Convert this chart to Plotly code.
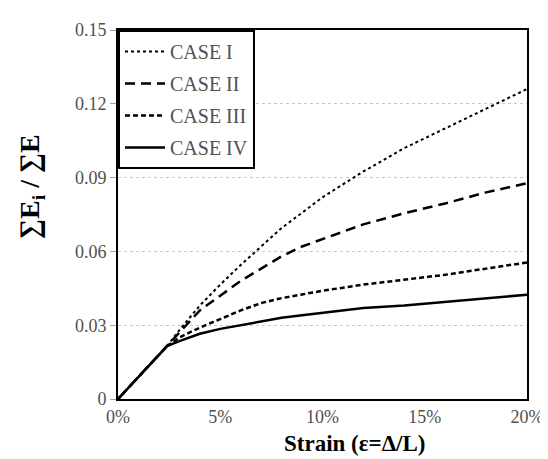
import plotly.graph_objects as go

strain = [0, 2.4, 3, 4, 5, 6, 7, 8, 9, 10, 12, 14, 16, 18, 20]
case_i = [0, 0.0215, 0.028, 0.038, 0.0465, 0.0545, 0.062, 0.0695, 0.0757, 0.082, 0.0925, 0.102, 0.110, 0.118, 0.126]
case_ii = [0, 0.0215, 0.027, 0.036, 0.042, 0.048, 0.053, 0.058, 0.062, 0.065, 0.071, 0.0755, 0.0795, 0.084, 0.0877]
case_iii = [0, 0.0215, 0.025, 0.029, 0.0325, 0.036, 0.039, 0.041, 0.0425, 0.044, 0.0465, 0.0485, 0.0505, 0.053, 0.0555]
case_iv = [0, 0.0215, 0.0235, 0.0265, 0.0285, 0.030, 0.0315, 0.033, 0.034, 0.035, 0.037, 0.038, 0.0395, 0.041, 0.0424]

names = ["CASE I", "CASE II", "CASE III", "CASE IV"]
x_ticks = [0, 5, 10, 15, 20]
x_labels = ["0%", "5%", "10%", "15%", "20%"]
y_ticks = [0, 0.03, 0.06, 0.09, 0.12, 0.15]
y_labels = ["0", "0.03", "0.06", "0.09", "0.12", "0.15"]

series = [case_i, case_ii, case_iii, case_iv]
dashes = ["dot", "10px,6px", "5px,3px", "solid"]
widths = [2, 2.5, 2.5, 2.5]

FONT = "Liberation Serif"
fig = go.Figure()
for i, (nm, ys) in enumerate(zip(names, series)):
    fig.add_trace(go.Scatter(
        x=strain, y=ys, mode="lines", name=nm, legendgroup=nm,
        line=dict(color="black", width=widths[i], dash=dashes[i]),
    ))

fig.update_layout(
    width=548, height=459,
    margin=dict(l=110, r=18, t=19, b=68),
    paper_bgcolor="white", plot_bgcolor="white",
    font=dict(family=FONT, size=17, color="#505050"),
    showlegend=True,
    legend=dict(
        x=0, y=1, xanchor="left", yanchor="top",
        bgcolor="white", bordercolor="black", borderwidth=2,
        font=dict(family=FONT, size=20, color="#505050"),
        tracegroupgap=3, itemwidth=40,
    ),
    xaxis=dict(
        range=[0, 20], tickvals=x_ticks, ticktext=x_labels,
        showline=True, linecolor="black", linewidth=2, mirror=True,
        showgrid=False, zeroline=False, ticks="",
        tickfont=dict(family=FONT, size=18, color="#505050"),
    ),
    yaxis=dict(
        range=[0, 0.15], tickvals=y_ticks, ticktext=y_labels,
        showline=True, linecolor="black", linewidth=2, mirror=True,
        showgrid=True, gridcolor="#c8c8c8", griddash="dot", gridwidth=1,
        zeroline=False, ticks="outside", ticklen=6, tickcolor="#a0a0a0",
        tickfont=dict(family=FONT, size=18, color="#505050"),
    ),
    annotations=[
        dict(text="<b>Strain (\u03b5=\u0394/L)</b>", xref="paper", yref="paper",
             x=0.58, y=-0.12, xanchor="center", yanchor="middle", showarrow=False,
             font=dict(family=FONT, size=23, color="black")),
        dict(text="<b>\u2211E<sub>i</sub> / \u2211E</b>", xref="paper", yref="paper",
             x=-0.21, y=0.575, xanchor="center", yanchor="middle", showarrow=False,
             textangle=-90,
             font=dict(family=FONT, size=28, color="black")),
    ],
)

fig.write_html("out.html")
